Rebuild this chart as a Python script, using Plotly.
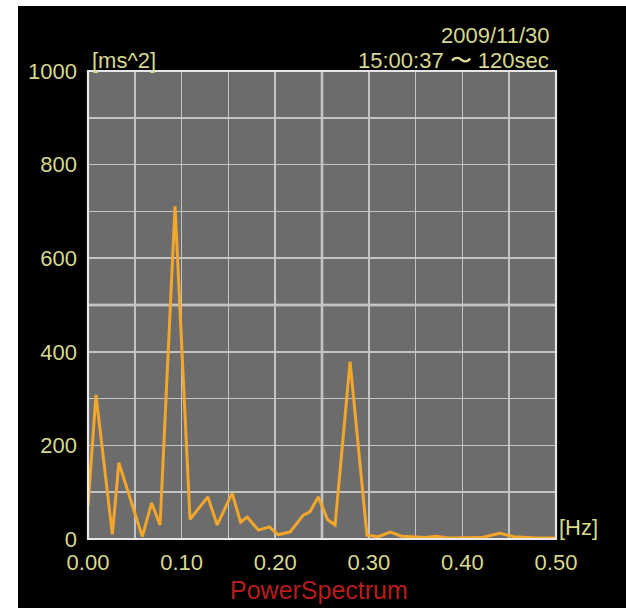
import plotly.graph_objects as go

# Data
freq_hz = [0.000, 0.0085, 0.026, 0.033, 0.058, 0.068, 0.077, 0.093, 0.109, 0.128,
           0.138, 0.154, 0.163, 0.170, 0.182, 0.194, 0.203, 0.216, 0.230, 0.237,
           0.246, 0.256, 0.264, 0.280, 0.298, 0.310, 0.323, 0.335, 0.360, 0.372,
           0.385, 0.420, 0.440, 0.455, 0.480, 0.500]
power_ms2 = [70, 308, 10, 163, 5, 77, 30, 711, 42, 90,
             30, 98, 36, 47, 19, 26, 9, 15, 51, 58,
             90, 41, 30, 379, 8, 5, 15, 6, 3, 6,
             2, 3, 12, 5, 2, 2]

x_ticks = [0.0, 0.1, 0.2, 0.3, 0.4, 0.5]
x_tick_labels = ["0.00", "0.10", "0.20", "0.30", "0.40", "0.50"]
y_ticks = [0, 200, 400, 600, 800, 1000]
y_tick_labels = ["0", "200", "400", "600", "800", "1000"]

FONT = "Liberation Sans, Arial, sans-serif"
YEL = "#d6d98e"
W, H = 626, 608
L, R, T, B = 88, 70, 71, 69
PW, PH = W - L - R, H - T - B


def px2x(px):
    return (px - L) / PW


def px2y(py):
    return (H - B - py) / PH


fig = go.Figure()
fig.add_trace(go.Scatter(
    x=freq_hz, y=power_ms2, mode="lines",
    line=dict(color="#f2a62a", width=3),
    hoverinfo="skip", showlegend=False,
))

grid_col = "#c4c4c4"
fig.update_xaxes(
    range=[0, 0.5], tickvals=x_ticks, ticktext=x_tick_labels,
    showgrid=True, gridcolor=grid_col, gridwidth=1.6,
    minor=dict(dtick=0.05, tick0=0, showgrid=True, gridcolor=grid_col, gridwidth=1.6),
    zeroline=False, showline=False, ticks="",
    tickfont=dict(family=FONT, size=22, color=YEL),
    ticklabelstandoff=8,
)
fig.update_yaxes(
    range=[0, 1000], tickvals=y_ticks, ticktext=y_tick_labels,
    showgrid=True, gridcolor=grid_col, gridwidth=1.6,
    minor=dict(dtick=100, tick0=0, showgrid=True, gridcolor=grid_col, gridwidth=1.6),
    zeroline=False, showline=False, ticks="",
    tickfont=dict(family=FONT, size=22, color=YEL),
    ticklabelstandoff=10,
)

shapes = [
    # center lines
    dict(type="line", xref="x", yref="paper", x0=0.25, x1=0.25, y0=0, y1=1,
         line=dict(color="#f0f0f0", width=2.4), layer="below"),
    dict(type="line", xref="paper", yref="y", x0=0, x1=1, y0=500, y1=500,
         line=dict(color="#f0f0f0", width=2.4), layer="below"),
    # border
    dict(type="rect", xref="paper", yref="paper", x0=0, x1=1, y0=0, y1=1,
         line=dict(color="#e6e6e6", width=2.2), fillcolor="rgba(0,0,0,0)", layer="above"),
    # white margin strips of the photo
    dict(type="rect", xref="paper", yref="paper", x0=px2x(0), x1=px2x(18), y0=px2y(H), y1=px2y(0),
         line=dict(width=0), fillcolor="white", layer="above"),
    dict(type="rect", xref="paper", yref="paper", x0=px2x(0), x1=px2x(W), y0=px2y(6), y1=px2y(0),
         line=dict(width=0), fillcolor="white", layer="above"),
]

annotations = [
    dict(text="[ms^2]", x=px2x(90), y=px2y(60), xanchor="left", yanchor="middle"),
    dict(text="15:00:37 〜 120sec", x=px2x(551), y=px2y(60), xanchor="right", yanchor="middle"),
    dict(text="2009/11/30", x=px2x(551), y=px2y(35), xanchor="right", yanchor="middle"),
    dict(text="[Hz]", x=px2x(557), y=px2y(527), xanchor="left", yanchor="middle"),
]
for a in annotations:
    a.update(xref="paper", yref="paper", showarrow=False,
             font=dict(family=FONT, size=22, color=YEL))
annotations.append(dict(text="PowerSpectrum", xref="paper", yref="paper",
                        x=px2x(319), y=px2y(590), xanchor="center", yanchor="middle",
                        showarrow=False, font=dict(family=FONT, size=25, color="#b81c1c")))

fig.update_layout(
    width=W, height=H,
    margin=dict(l=L, r=R, t=T, b=B, pad=0),
    paper_bgcolor="black", plot_bgcolor="#6c6c6c",
    shapes=shapes, annotations=annotations,
    showlegend=False,
)

fig.write_html(
    "out.html",
    config={"displayModeBar": False, "staticPlot": True},
    post_script="document.body.style.margin='0';document.body.style.padding='0';"
                "document.documentElement.style.overflow='hidden';",
)
